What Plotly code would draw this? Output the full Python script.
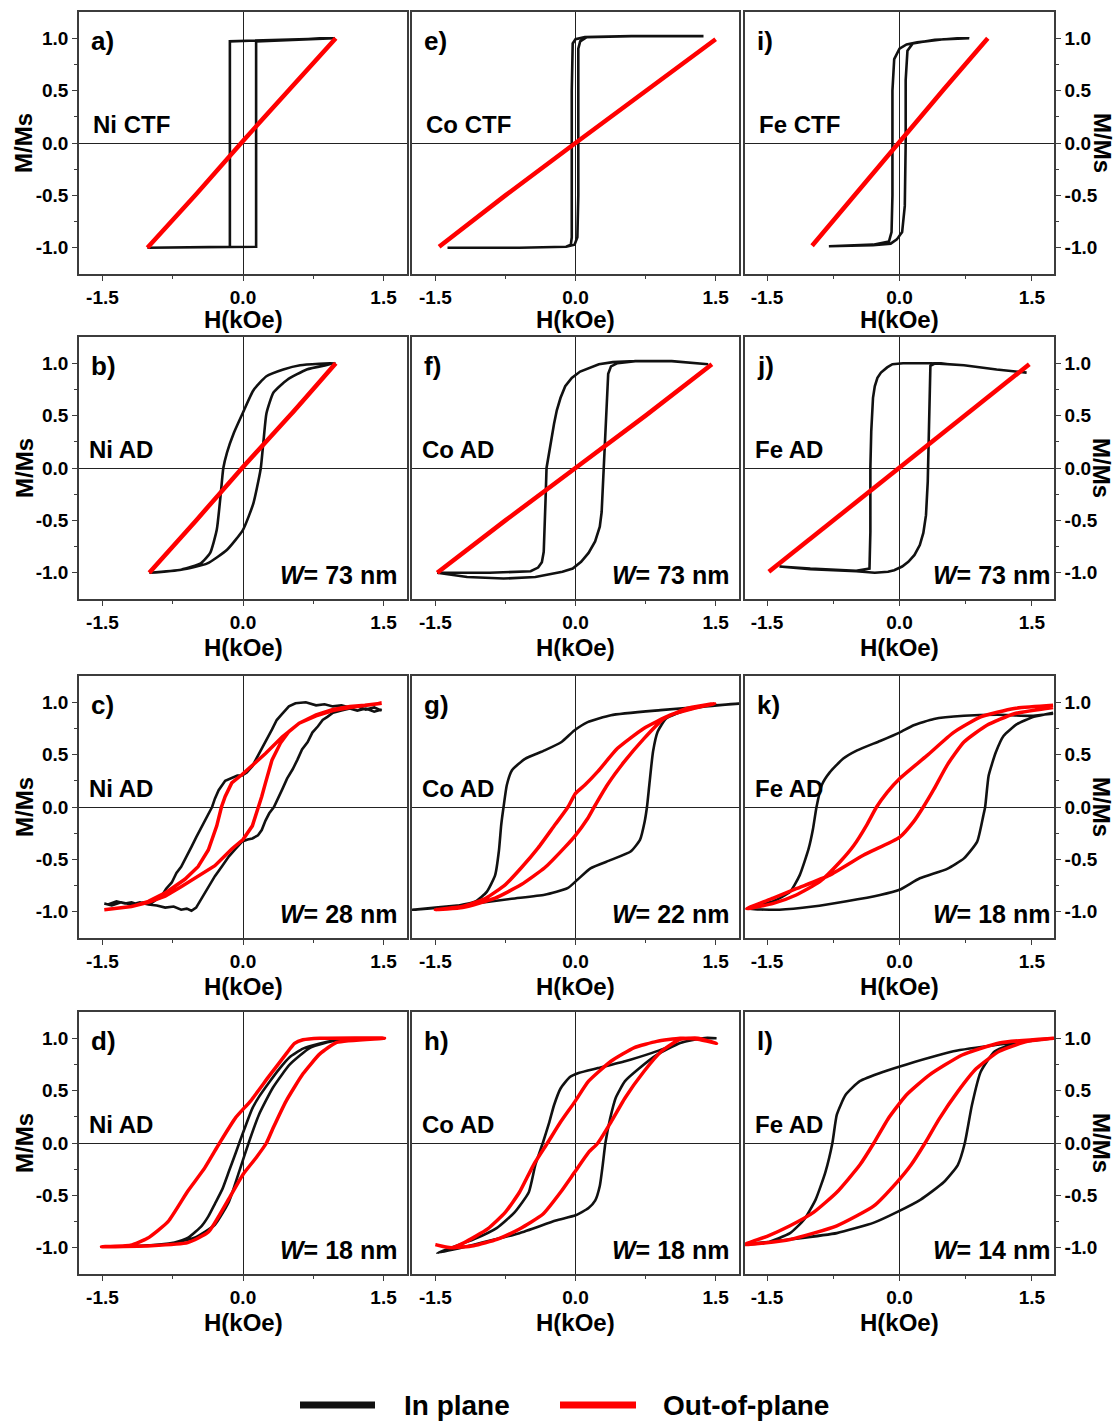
import plotly.graph_objects as go

FIG_W, FIG_H = 1117, 1426

# ---------------------------------------------------------------------------
# Hysteresis loops: H in kOe, M/Ms dimensionless.
# Each loop is the descending branch followed by the ascending branch.
# "_in" = in-plane (black), "_out" = out-of-plane (red)
# ---------------------------------------------------------------------------

# a) Ni CTF
a_in_H = [0.98, 0.5, 0.14, -0.14, -0.14, -0.5, -1.02, -0.5, 0.14, 0.14, 0.5, 0.98]
a_in_M = [1.0, 0.99, 0.98, 0.97, -0.99, -0.995, -1.0, -0.995, -0.99, 0.97, 0.98, 1.0]
a_out_H = [-1.02, -0.5, 0.0, 0.5, 0.99]
a_out_M = [-1.0, -0.49, 0.02, 0.51, 1.0]

# b) Ni AD, W = 73 nm
b_in_H = [0.98, 0.61, 0.43, 0.25, 0.11, 0.0, -0.1, -0.17, -0.21, -0.24, -0.28, -0.35, -0.45, -0.66, -1.0,
          -0.66, -0.38, -0.17, 0.0, 0.11, 0.165, 0.19, 0.22, 0.25, 0.325, 0.47, 0.68, 0.98]
b_in_M = [1.0, 0.98, 0.94, 0.875, 0.74, 0.53, 0.33, 0.15, 0.0, -0.27, -0.59, -0.81, -0.91, -0.97, -1.0,
          -0.97, -0.91, -0.78, -0.59, -0.34, -0.12, 0.0, 0.27, 0.52, 0.72, 0.84, 0.94, 1.0]
b_out_H = [-1.0, -0.5, 0.0, 0.5, 0.99]
b_out_M = [-1.0, -0.5, 0.01, 0.5, 1.0]

# c) Ni AD, W = 28 nm
c_in_H = [1.48, 1.40, 1.31, 1.22, 1.14, 1.05, 0.96, 0.87, 0.78, 0.67, 0.56, 0.49, 0.42, 0.36, 0.31, 0.26,
          0.20, 0.15, 0.10, 0.04, -0.01, -0.06, -0.12, -0.19, -0.26, -0.30, -0.33, -0.39, -0.44, -0.50,
          -0.55, -0.60, -0.66, -0.71, -0.76, -0.82, -0.87, -0.92, -0.98, -1.05, -1.12, -1.19, -1.26, -1.35,
          -1.44, -1.48,
          -1.40, -1.30, -1.19, -1.10, -1.01, -0.92, -0.83, -0.74, -0.66, -0.60, -0.55, -0.50, -0.44, -0.37,
          -0.30, -0.22, -0.15, -0.08, -0.01, 0.05, 0.10, 0.16, 0.20, 0.24, 0.28, 0.33, 0.38, 0.42, 0.47,
          0.53, 0.58, 0.63, 0.69, 0.74, 0.80, 0.85, 0.90, 0.96, 1.05, 1.14, 1.22, 1.31, 1.40, 1.48]
c_in_M = [0.92, 0.95, 0.93, 0.96, 0.95, 0.97, 0.96, 0.98, 0.97, 1.0, 0.99, 0.96, 0.89, 0.83, 0.74, 0.66,
          0.55, 0.48, 0.39, 0.33, 0.30, 0.30, 0.28, 0.25, 0.16, 0.08, 0.0, -0.10, -0.18, -0.29,
          -0.38, -0.46, -0.57, -0.63, -0.72, -0.78, -0.85, -0.88, -0.92, -0.91, -0.93, -0.91, -0.92, -0.90,
          -0.93, -0.92,
          -0.94, -0.91, -0.93, -0.91, -0.93, -0.94, -0.96, -0.95, -0.98, -0.97, -0.99, -0.96, -0.87, -0.76,
          -0.66, -0.56, -0.47, -0.40, -0.33, -0.31, -0.30, -0.27, -0.22, -0.13, -0.06, 0.0, 0.09, 0.17, 0.27,
          0.36, 0.45, 0.55, 0.62, 0.71, 0.77, 0.83, 0.86, 0.90, 0.92, 0.94, 0.92, 0.94, 0.91, 0.93]
c_out_H = [1.48, 1.30, 1.14, 0.96, 0.78, 0.60, 0.42, 0.24, 0.06, -0.01, -0.12, -0.19, -0.23, -0.28, -0.37,
           -0.48, -0.62, -0.83, -1.01, -1.19, -1.48,
           -1.19, -1.01, -0.83, -0.66, -0.48, -0.30, -0.12, 0.0, 0.10, 0.17, 0.20, 0.24, 0.31, 0.40, 0.49,
           0.60, 0.78, 0.96, 1.14, 1.30, 1.48]
c_out_M = [0.99, 0.97, 0.95, 0.92, 0.87, 0.80, 0.67, 0.51, 0.36, 0.31, 0.23, 0.10, 0.0, -0.18, -0.41,
           -0.57, -0.69, -0.82, -0.90, -0.95, -0.98,
           -0.95, -0.91, -0.85, -0.76, -0.66, -0.56, -0.40, -0.31, -0.18, 0.0, 0.10, 0.23, 0.45, 0.61, 0.72,
           0.80, 0.88, 0.93, 0.96, 0.97, 0.99]

# d) Ni AD, W = 18 nm
d_in_H = [1.51, 1.18, 1.0, 0.82, 0.64, 0.50, 0.39, 0.28, 0.17, 0.10, 0.03, -0.04, -0.08, -0.15, -0.22,
          -0.30, -0.37, -0.44, -0.58, -0.73, -0.87, -1.09, -1.51,
          -1.06, -0.73, -0.51, -0.30, -0.15, -0.04, 0.06, 0.17, 0.32, 0.50, 0.72, 1.0, 1.51]
d_in_M = [1.0, 0.99, 0.98, 0.95, 0.90, 0.82, 0.71, 0.58, 0.44, 0.33, 0.17, 0.0, -0.10, -0.27, -0.44,
          -0.58, -0.70, -0.79, -0.90, -0.95, -0.97, -0.98, -0.99,
          -0.98, -0.95, -0.90, -0.78, -0.56, -0.27, 0.0, 0.27, 0.53, 0.75, 0.91, 0.98, 1.0]
d_out_H = [1.51, 0.82, 0.64, 0.55, 0.46, 0.28, 0.08, -0.08, -0.25, -0.41, -0.59, -0.80, -1.02, -1.20, -1.51,
           -0.98, -0.59, -0.37, -0.15, 0.0, 0.14, 0.25, 0.32, 0.46, 0.64, 0.82, 1.0, 1.51]
d_out_M = [1.0, 1.0, 0.985, 0.95, 0.85, 0.64, 0.40, 0.24, 0.0, -0.24, -0.46, -0.75, -0.91, -0.976, -0.99,
           -0.98, -0.95, -0.85, -0.53, -0.30, -0.14, 0.0, 0.14, 0.40, 0.66, 0.85, 0.96, 1.0]

# e) Co CTF
e_in_H = [1.37, 0.6, 0.1, 0.0, -0.03, -0.04, -0.04, -0.05, -0.1, -0.6, -1.37,
          -0.6, -0.1, -0.01, 0.02, 0.03, 0.03, 0.05, 0.12, 0.6, 1.37]
e_in_M = [1.02, 1.02, 1.01, 0.99, 0.95, 0.5, -0.9, -0.97, -0.99, -1.0, -1.0,
          -1.0, -0.99, -0.97, -0.9, -0.5, 0.9, 0.97, 1.01, 1.02, 1.02]
e_out_H = [-1.46, -0.75, 0.0, 0.75, 1.5]
e_out_M = [-0.99, -0.5, 0.0, 0.5, 0.99]

# f) Co AD, W = 73 nm
f_in_H = [1.42, 1.03, 0.64, 0.40, 0.25, 0.16, 0.05, -0.04, -0.11, -0.16, -0.20, -0.23, -0.28, -0.31, -0.32,
          -0.33, -0.34, -0.36, -0.40, -0.48, -0.92, -1.48,
          -1.16, -0.77, -0.43, -0.14, -0.03, 0.06, 0.14, 0.21, 0.26, 0.28, 0.30, 0.33, 0.35, 0.38, 0.45, 0.64,
          1.03, 1.42]
f_in_M = [0.99, 1.02, 1.02, 1.01, 0.99, 0.96, 0.92, 0.86, 0.78, 0.67, 0.55, 0.42, 0.16, 0.0, -0.29,
          -0.61, -0.80, -0.90, -0.95, -0.985, -1.0, -1.0,
          -1.04, -1.055, -1.04, -0.99, -0.96, -0.895, -0.81, -0.70, -0.56, -0.42, 0.0, 0.51, 0.90, 0.97, 1.0, 1.02,
          1.02, 0.99]
f_out_H = [-1.48, -0.75, 0.0, 0.75, 1.46]
f_out_M = [-1.0, -0.5, 0.0, 0.5, 0.99]

# g) Co AD, W = 22 nm
g_in_H = [1.755, 1.46, 0.91, 0.38, 0.13, -0.013, -0.15, -0.33, -0.54, -0.68, -0.735, -0.77, -0.795,
          -0.82, -0.86, -0.95, -1.07, -1.32, -1.745,
          -1.21, -0.684, -0.33, -0.085, 0.02, 0.16, 0.38, 0.59, 0.69, 0.74, 0.765, 0.79, 0.83, 0.88,
          0.97, 1.18, 1.43, 1.755]
g_in_M = [0.987, 0.965, 0.924, 0.876, 0.81, 0.73, 0.62, 0.54, 0.46, 0.35, 0.21, 0.0, -0.17,
          -0.42, -0.65, -0.81, -0.90, -0.95, -0.98,
          -0.935, -0.876, -0.838, -0.775, -0.695, -0.585, -0.505, -0.425, -0.314, -0.14, 0.0, 0.21, 0.53, 0.72,
          0.845, 0.924, 0.965, 0.987]
g_out_H = [1.49, 1.26, 1.01, 0.73, 0.45, 0.24, 0.10, 0.0, -0.08, -0.22, -0.40, -0.58, -0.75, -0.96, -1.21,
           -1.50,
           -1.21, -0.86, -0.58, -0.33, -0.12, 0.0, 0.13, 0.20, 0.34, 0.52, 0.73, 0.94, 1.19, 1.49]
g_out_M = [0.987, 0.94, 0.876, 0.75, 0.56, 0.34, 0.21, 0.13, 0.0, -0.17, -0.39, -0.58, -0.74, -0.87, -0.95,
           -0.98,
           -0.96, -0.87, -0.74, -0.58, -0.39, -0.27, -0.11, 0.0, 0.21, 0.43, 0.65, 0.84, 0.94, 0.987]

# h) Co AD, W = 18 nm
h_in_H = [1.51, 1.36, 1.12, 0.82, 0.53, 0.24, 0.04, -0.06, -0.16, -0.23, -0.28, -0.35, -0.43, -0.50,
          -0.65, -0.84, -1.09, -1.33, -1.48,
          -1.09, -0.60, -0.21, 0.0, 0.14, 0.21, 0.26, 0.29, 0.32, 0.37, 0.43, 0.53, 0.68, 0.87, 1.12, 1.36,
          1.51]
h_in_M = [1.0, 1.0, 0.955, 0.86, 0.78, 0.715, 0.67, 0.63, 0.52, 0.36, 0.20, 0.0, -0.21, -0.47,
          -0.66, -0.81, -0.92, -1.0, -1.05,
          -0.97, -0.86, -0.74, -0.69, -0.62, -0.55, -0.41, -0.22, 0.0, 0.23, 0.43, 0.59, 0.71, 0.84, 0.955, 1.0,
          1.0]
h_out_H = [1.51, 1.31, 1.12, 0.87, 0.63, 0.38, 0.14, -0.01, -0.16, -0.30, -0.45, -0.60, -0.75, -0.94,
           -1.19, -1.33, -1.50,
           -1.33, -1.09, -0.84, -0.60, -0.35, -0.16, -0.01, 0.14, 0.24, 0.38, 0.53, 0.73, 0.92, 1.12, 1.31,
           1.51]
h_out_M = [0.95, 0.99, 1.0, 0.97, 0.91, 0.78, 0.59, 0.39, 0.20, 0.0, -0.21, -0.47, -0.66, -0.82,
           -0.95, -1.0, -0.97,
           -1.0, -0.98, -0.92, -0.82, -0.68, -0.47, -0.28, -0.09, 0.0, 0.20, 0.43, 0.68, 0.875, 0.99, 1.0,
           0.95]

# i) Fe CTF
i_in_H = [0.79, 0.5, 0.2, 0.08, 0.0, -0.06, -0.08, -0.08, -0.09, -0.12, -0.3, -0.8,
          -0.3, -0.1, -0.03, 0.03, 0.06, 0.07, 0.07, 0.09, 0.15, 0.4, 0.79]
i_in_M = [1.0, 0.99, 0.96, 0.94, 0.9, 0.8, 0.5, -0.5, -0.85, -0.94, -0.97, -0.985,
          -0.975, -0.96, -0.92, -0.85, -0.6, 0.0, 0.6, 0.88, 0.95, 0.985, 1.0]
i_out_H = [-0.99, -0.5, 0.0, 0.5, 1.0]
i_out_M = [-0.98, -0.49, 0.02, 0.51, 1.0]

# j) Fe AD, W = 73 nm
j_in_H = [1.44, 1.10, 0.73, 0.36, 0.04, -0.08, -0.14, -0.21, -0.25, -0.28, -0.30, -0.32, -0.33, -0.33, -0.34,
          -0.49, -1.01, -1.36,
          -1.01, -0.49, -0.28, -0.13, -0.06, 0.03, 0.10, 0.17, 0.23, 0.27, 0.30, 0.32, 0.33, 0.34, 0.35, 0.41,
          0.73, 1.10, 1.44]
j_in_M = [0.91, 0.94, 0.98, 1.0, 1.0, 0.99, 0.96, 0.91, 0.86, 0.78, 0.67, 0.35, 0.0, -0.61, -0.96,
          -0.98, -0.96, -0.94,
          -0.965, -0.985, -1.0, -0.99, -0.975, -0.94, -0.895, -0.83, -0.735, -0.62, -0.45, -0.13, 0.35, 0.83,
          0.975, 1.0, 0.98, 0.94, 0.91]
j_out_H = [-1.48, -0.75, 0.0, 0.75, 1.47]
j_out_M = [-0.99, -0.5, 0.0, 0.5, 0.99]

# k) Fe AD, W = 18 nm
k_in_H = [1.74, 1.48, 1.11, 0.73, 0.39, 0.16, 0.0, -0.22, -0.48, -0.64, -0.79, -0.88, -0.94, -0.98, -1.03,
          -1.13, -1.24, -1.43, -1.73,
          -1.36, -0.98, -0.60, -0.22, 0.0, 0.23, 0.54, 0.73, 0.88, 0.95, 0.97, 1.01, 1.09, 1.18, 1.33, 1.52, 1.74]
k_in_M = [0.89, 0.87, 0.88, 0.87, 0.84, 0.78, 0.71, 0.63, 0.54, 0.46, 0.33, 0.21, 0.0, -0.21, -0.40,
          -0.65, -0.81, -0.90, -0.97,
          -0.98, -0.95, -0.90, -0.84, -0.79, -0.68, -0.59, -0.49, -0.33, -0.08, 0.0, 0.30, 0.52, 0.68, 0.79,
          0.86, 0.90]
k_out_H = [1.74, 1.30, 0.92, 0.61, 0.31, 0.0, -0.14, -0.26, -0.37, -0.52, -0.67, -0.90, -1.17, -1.43, -1.73,
           -1.43, -1.17, -0.79, -0.41, 0.0, 0.16, 0.27, 0.39, 0.54, 0.73, 0.99, 1.30, 1.74]
k_out_M = [0.97, 0.94, 0.86, 0.71, 0.49, 0.27, 0.14, 0.0, -0.17, -0.37, -0.52, -0.71, -0.84, -0.92, -0.97,
           -0.87, -0.78, -0.65, -0.46, -0.29, -0.14, 0.0, 0.17, 0.40, 0.62, 0.78, 0.89, 0.95]

# l) Fe AD, W = 14 nm
l_in_H = [1.76, 1.13, 0.61, 0.08, -0.18, -0.45, -0.61, -0.71, -0.76, -0.84, -0.95, -1.08, -1.24, -1.50,
          -1.76,
          -1.24, -0.71, -0.29, -0.03, 0.24, 0.50, 0.66, 0.74, 0.82, 0.92, 1.08, 1.39, 1.76]
l_in_M = [1.0, 0.94, 0.875, 0.75, 0.68, 0.59, 0.46, 0.27, 0.0, -0.28, -0.54, -0.73, -0.86, -0.95,
          -0.97,
          -0.92, -0.86, -0.76, -0.66, -0.54, -0.375, -0.21, 0.0, 0.36, 0.68, 0.875, 0.97, 1.0]
l_out_H = [1.76, 1.13, 0.71, 0.34, 0.08, -0.13, -0.29, -0.45, -0.71, -0.97, -1.24, -1.50, -1.76,
           -1.24, -0.71, -0.29, -0.03, 0.13, 0.29, 0.45, 0.66, 0.87, 1.13, 1.45, 1.76]
l_out_M = [1.0, 0.955, 0.84, 0.65, 0.46, 0.23, 0.0, -0.21, -0.47, -0.66, -0.79, -0.89, -0.97,
           -0.92, -0.79, -0.60, -0.375, -0.21, 0.0, 0.23, 0.49, 0.71, 0.875, 0.97, 1.0]

# Panel annotations
panel_letters = ["a)", "b)", "c)", "d)", "e)", "f)", "g)", "h)", "i)", "j)", "k)", "l)"]
sample_names = ["Ni CTF", "Ni AD", "Ni AD", "Ni AD",
                "Co CTF", "Co AD", "Co AD", "Co AD",
                "Fe CTF", "Fe AD", "Fe AD", "Fe AD"]
wire_widths_nm = [None, 73, 28, 18, None, 73, 22, 18, None, 73, 18, 14]

x_tick_vals = [-1.5, 0.0, 1.5]
x_tick_text = ["-1.5", "0.0", "1.5"]
y_tick_vals = [-1.0, -0.5, 0.0, 0.5, 1.0]
y_tick_text = ["-1.0", "-0.5", "0.0", "0.5", "1.0"]

legend_labels = ["In plane", "Out-of-plane"]

loops = [
    (a_in_H, a_in_M, a_out_H, a_out_M),
    (b_in_H, b_in_M, b_out_H, b_out_M),
    (c_in_H, c_in_M, c_out_H, c_out_M),
    (d_in_H, d_in_M, d_out_H, d_out_M),
    (e_in_H, e_in_M, e_out_H, e_out_M),
    (f_in_H, f_in_M, f_out_H, f_out_M),
    (g_in_H, g_in_M, g_out_H, g_out_M),
    (h_in_H, h_in_M, h_out_H, h_out_M),
    (i_in_H, i_in_M, i_out_H, i_out_M),
    (j_in_H, j_in_M, j_out_H, j_out_M),
    (k_in_H, k_in_M, k_out_H, k_out_M),
    (l_in_H, l_in_M, l_out_H, l_out_M),
]

# ---------------------------------------------------------------------------
# Layout geometry (pixels)
# ---------------------------------------------------------------------------
COL_PX = [(79, 407), (412, 739), (745, 1054)]
ROW_PX = [(12, 274), (337, 599), (676, 938), (1012, 1274)]

BLACK = "#111111"
RED = "#ff0000"
FRAME = "#3c3c3c"
FONT = "Arial, Liberation Sans, sans-serif"

smooth_panels = {"b", "d", "g", "h", "k", "l"}
letters = "abcdefghijkl"

fig = go.Figure()
layout = dict(
    width=FIG_W, height=FIG_H,
    margin=dict(l=0, r=0, t=0, b=0),
    paper_bgcolor="white", plot_bgcolor="white",
    showlegend=False,
    font=dict(family=FONT, color="black"),
)
annotations = []
shapes = []

for idx in range(12):
    col, row = idx // 4, idx % 4
    n = idx + 1
    xa = "x" if n == 1 else f"x{n}"
    ya = "y" if n == 1 else f"y{n}"
    x0p, x1p = COL_PX[col]
    y0p, y1p = ROW_PX[row]
    key = letters[idx]
    line_shape = dict(shape="spline", smoothing=0.5) if key in smooth_panels else dict(shape="linear")

    in_H, in_M, out_H, out_M = loops[idx]
    red_w = 4.5 if row < 2 else 3.5
    fig.add_trace(go.Scatter(x=in_H, y=in_M, mode="lines", xaxis=xa, yaxis=ya,
                             line=dict(color=BLACK, width=2.6, **line_shape),
                             name=legend_labels[0], hoverinfo="skip"))
    fig.add_trace(go.Scatter(x=out_H, y=out_M, mode="lines", xaxis=xa, yaxis=ya,
                             line=dict(color=RED, width=red_w, **line_shape),
                             name=legend_labels[1], hoverinfo="skip"))

    xaxis = dict(
        domain=[x0p / FIG_W, x1p / FIG_W], anchor=ya, range=[-1.75, 1.75],
        showgrid=False, zeroline=True, zerolinecolor="#222222", zerolinewidth=1,
        showline=True, mirror=True, linecolor=FRAME, linewidth=1.6,
        tickmode="array", tickvals=x_tick_vals, ticktext=x_tick_text,
        ticks="outside", ticklen=5, tickwidth=1.4, tickcolor=FRAME,
        minor=dict(tickmode="array", tickvals=[-0.75, 0.75], ticks="outside",
                   ticklen=3, tickwidth=1.2, tickcolor=FRAME),
        tickfont=dict(size=19, family=FONT, weight="bold", color="black"),
        fixedrange=True,
    )
    yaxis = dict(
        domain=[1 - y1p / FIG_H, 1 - y0p / FIG_H], anchor=xa, range=[-1.25, 1.25],
        showgrid=False, zeroline=True, zerolinecolor="#222222", zerolinewidth=1,
        showline=True, mirror=True, linecolor=FRAME, linewidth=1.6,
        fixedrange=True,
    )
    if col == 1:
        yaxis.update(ticks="", showticklabels=False)
    else:
        yaxis.update(
            side="left" if col == 0 else "right",
            tickmode="array", tickvals=y_tick_vals, ticktext=y_tick_text,
            ticks="outside", ticklen=5, tickwidth=1.4, tickcolor=FRAME,
            minor=dict(tickmode="array", tickvals=[-0.75, -0.25, 0.25, 0.75], ticks="outside",
                       ticklen=3, tickwidth=1.2, tickcolor=FRAME),
            tickfont=dict(size=19, family=FONT, weight="bold", color="black"),
        )
    layout["xaxis" if n == 1 else f"xaxis{n}"] = xaxis
    layout["yaxis" if n == 1 else f"yaxis{n}"] = yaxis

    xd, yd = f"{xa} domain", f"{ya} domain"
    # panel letter
    annotations.append(dict(text=panel_letters[idx], xref=xd, yref=yd, x=0, y=1,
                            xshift=10, yshift=-29, xanchor="left", yanchor="middle",
                            showarrow=False, font=dict(size=26, weight="bold")))
    # sample name
    annotations.append(dict(text=sample_names[idx], xref=xd, yref=ya, x=0, y=0.18,
                            xshift=12 if row == 0 else 8, xanchor="left", yanchor="middle",
                            showarrow=False, font=dict(size=24, weight="bold")))
    # wire width
    if wire_widths_nm[idx] is not None:
        annotations.append(dict(text=f"<i>W</i>= {wire_widths_nm[idx]} nm", xref=xd, yref=ya,
                                x=1, y=-1.02, xshift=-8 if col < 2 else -2,
                                xanchor="right", yanchor="middle", showarrow=False,
                                font=dict(size=25, weight="bold")))
    # x-axis title
    annotations.append(dict(text="H(kOe)", xref=xd, yref=yd, x=0.5, y=0,
                            yshift=-45 if row == 0 else -48, xanchor="center", yanchor="middle",
                            showarrow=False, font=dict(size=24, weight="bold")))
    # y-axis title (outer columns only)
    if col == 0:
        annotations.append(dict(text="M/Ms", xref=xd, yref=yd, x=0, y=0.5, xshift=-55,
                                textangle=-90, xanchor="center", yanchor="middle",
                                showarrow=False, font=dict(size=24, weight="bold")))
    elif col == 2:
        annotations.append(dict(text="M/Ms", xref=xd, yref=yd, x=1, y=0.5, xshift=48,
                                textangle=90, xanchor="center", yanchor="middle",
                                showarrow=False, font=dict(size=24, weight="bold")))

# legend drawn below the grid
leg_y = 1 - 1405 / FIG_H
shapes.append(dict(type="line", xref="paper", yref="paper", x0=300 / FIG_W, x1=375 / FIG_W,
                   y0=leg_y, y1=leg_y, line=dict(color=BLACK, width=7)))
shapes.append(dict(type="line", xref="paper", yref="paper", x0=560 / FIG_W, x1=636 / FIG_W,
                   y0=leg_y, y1=leg_y, line=dict(color=RED, width=7)))
annotations.append(dict(text=legend_labels[0], xref="paper", yref="paper", x=402 / FIG_W, y=leg_y,
                        xanchor="left", yanchor="middle", showarrow=False,
                        font=dict(size=28, family=FONT, weight="bold")))
annotations.append(dict(text=legend_labels[1], xref="paper", yref="paper", x=661 / FIG_W, y=leg_y,
                        xanchor="left", yanchor="middle", showarrow=False,
                        font=dict(size=28, family=FONT, weight="bold")))

layout["annotations"] = annotations
layout["shapes"] = shapes
fig.update_layout(**layout)

fig.write_html("out.html", config={"displayModeBar": False})
